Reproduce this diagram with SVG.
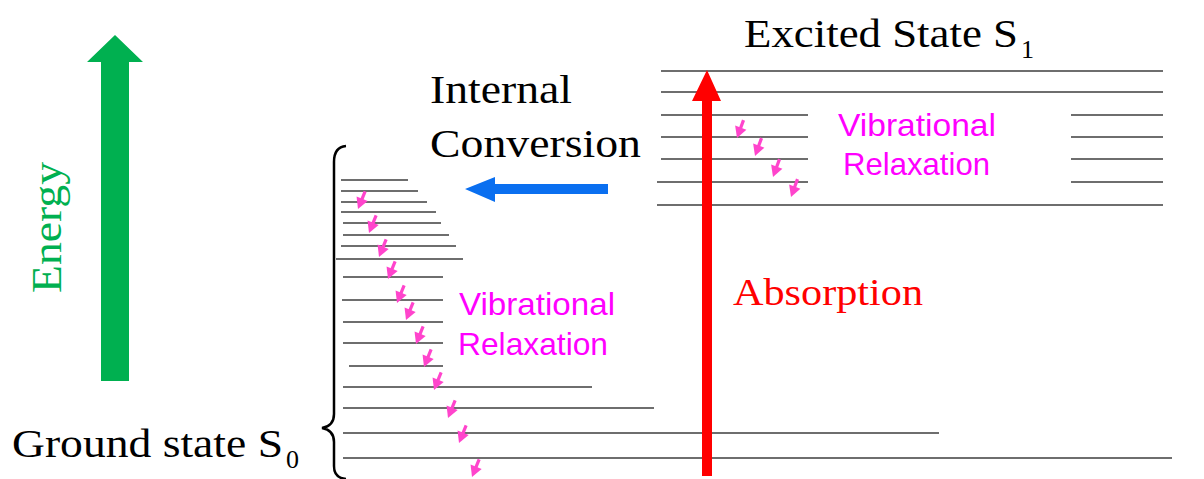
<svg xmlns="http://www.w3.org/2000/svg" xmlns:xlink="http://www.w3.org/1999/xlink" width="1204" height="479" viewBox="0 0 1204 479">
<style>
.lv{stroke:#6e6e6e;stroke-width:2;fill:none}
.serif{font-family:"Liberation Serif","Times New Roman",serif;fill:#000}
.sans{font-family:"Liberation Sans",Arial,sans-serif;fill:#ff00ff;font-size:32px}
.pk{fill:#ff44cc}
</style>
<defs>
<g id="va">
<rect x="-1.6" y="-19" width="3.2" height="10" class="pk"/>
<path d="M-6,-11 L6,-11 L0,0 Z" class="pk"/>
</g>
</defs>
<rect width="1204" height="479" fill="#fff"/>

<g id="energy">
<path d="M101,381 L101,62 L87,62 L115,35 L143,62 L129,62 L129,381 Z" fill="#00b050"/>
<text class="serif" font-size="43" style="fill:#00b050" transform="translate(61,293) rotate(-90)" textLength="131" lengthAdjust="spacingAndGlyphs">Energy</text>
</g>

<g id="excited-state">
<text class="serif" x="744" y="47" font-size="40" textLength="274" lengthAdjust="spacingAndGlyphs">Excited State S</text>
<text class="serif" x="1021" y="58" font-size="26">1</text>
<line class="lv" x1="661" y1="71" x2="1163" y2="71"/>
<line class="lv" x1="661" y1="92" x2="1163" y2="92"/>
<line class="lv" x1="661" y1="115" x2="808" y2="115"/>
<line class="lv" x1="661" y1="137" x2="808" y2="137"/>
<line class="lv" x1="661" y1="159" x2="808" y2="159"/>
<line class="lv" x1="657" y1="182" x2="808" y2="182"/>
<line class="lv" x1="1071" y1="115" x2="1163" y2="115"/>
<line class="lv" x1="1071" y1="137" x2="1163" y2="137"/>
<line class="lv" x1="1071" y1="159" x2="1163" y2="159"/>
<line class="lv" x1="1071" y1="182" x2="1163" y2="182"/>
<line class="lv" x1="657" y1="205" x2="1163" y2="205"/>
<text class="sans" x="838" y="136" textLength="158" lengthAdjust="spacingAndGlyphs">Vibrational</text>
<text class="sans" x="843" y="175" textLength="147" lengthAdjust="spacingAndGlyphs">Relaxation</text>
</g>

<g id="ground-state">
<text class="serif" x="12" y="457" font-size="40" textLength="271" lengthAdjust="spacingAndGlyphs">Ground state S</text>
<text class="serif" x="286" y="468" font-size="26">0</text>
<path d="M346,146 Q334,147 334,162 L334,414 Q334,426 322,428 Q334,430 334,442 L334,466 Q334,478 346,479" fill="none" stroke="#000" stroke-width="2.5"/>
<line class="lv" x1="341" y1="180" x2="408" y2="180"/>
<line class="lv" x1="341" y1="191" x2="418" y2="191"/>
<line class="lv" x1="341" y1="202" x2="427" y2="202"/>
<line class="lv" x1="341" y1="212" x2="436" y2="212"/>
<line class="lv" x1="343" y1="223" x2="441" y2="223"/>
<line class="lv" x1="343" y1="235" x2="449" y2="235"/>
<line class="lv" x1="341" y1="246" x2="456" y2="246"/>
<line class="lv" x1="336" y1="259" x2="463" y2="259"/>
<line class="lv" x1="343" y1="277" x2="443" y2="277"/>
<line class="lv" x1="342" y1="300" x2="443" y2="300"/>
<line class="lv" x1="343" y1="322" x2="443" y2="322"/>
<line class="lv" x1="343" y1="343" x2="443" y2="343"/>
<line class="lv" x1="349" y1="366" x2="443" y2="366"/>
<line class="lv" x1="343" y1="387" x2="592" y2="387"/>
<line class="lv" x1="343" y1="408" x2="654" y2="408"/>
<line class="lv" x1="343" y1="433" x2="939" y2="433"/>
<line class="lv" x1="343" y1="458" x2="1172" y2="458"/>
<text class="sans" x="459" y="315" textLength="156" lengthAdjust="spacingAndGlyphs">Vibrational</text>
<text class="sans" x="458" y="355" textLength="150" lengthAdjust="spacingAndGlyphs">Relaxation</text>
</g>

<g id="internal-conversion-label">
<text class="serif" x="430" y="103" font-size="40" textLength="142" lengthAdjust="spacingAndGlyphs">Internal</text>
<text class="serif" x="430" y="157" font-size="40" textLength="211" lengthAdjust="spacingAndGlyphs">Conversion</text>
</g>

<g id="absorption-label">
<text class="serif" x="733" y="305" font-size="38" style="fill:#ff0000" textLength="190" lengthAdjust="spacingAndGlyphs">Absorption</text>
</g>

<g id="connectors">
<path d="M702,476 L702,101 L692,101 L707,70 L721,101 L712,101 L712,476 Z" fill="#ff0000"/>
<path d="M608,184 L495,184 L495,177 L465,189 L495,202 L495,194 L608,194 Z" fill="#0a6ff0"/>
<use xlink:href="#va" transform="translate(737,138) rotate(20)"/>
<use xlink:href="#va" transform="translate(755,156) rotate(20)"/>
<use xlink:href="#va" transform="translate(773,177) rotate(20)"/>
<use xlink:href="#va" transform="translate(791,197) rotate(20)"/>
<use xlink:href="#va" transform="translate(358,209) rotate(22)"/>
<use xlink:href="#va" transform="translate(369,233) rotate(22)"/>
<use xlink:href="#va" transform="translate(379,257) rotate(22)"/>
<use xlink:href="#va" transform="translate(388,279) rotate(22)"/>
<use xlink:href="#va" transform="translate(397,303) rotate(22)"/>
<use xlink:href="#va" transform="translate(406,320) rotate(22)"/>
<use xlink:href="#va" transform="translate(416,344) rotate(22)"/>
<use xlink:href="#va" transform="translate(424,367) rotate(22)"/>
<use xlink:href="#va" transform="translate(434,390) rotate(22)"/>
<use xlink:href="#va" transform="translate(448,418) rotate(22)"/>
<use xlink:href="#va" transform="translate(459,443) rotate(22)"/>
<use xlink:href="#va" transform="translate(472,477) rotate(22)"/>
</g>
</svg>
